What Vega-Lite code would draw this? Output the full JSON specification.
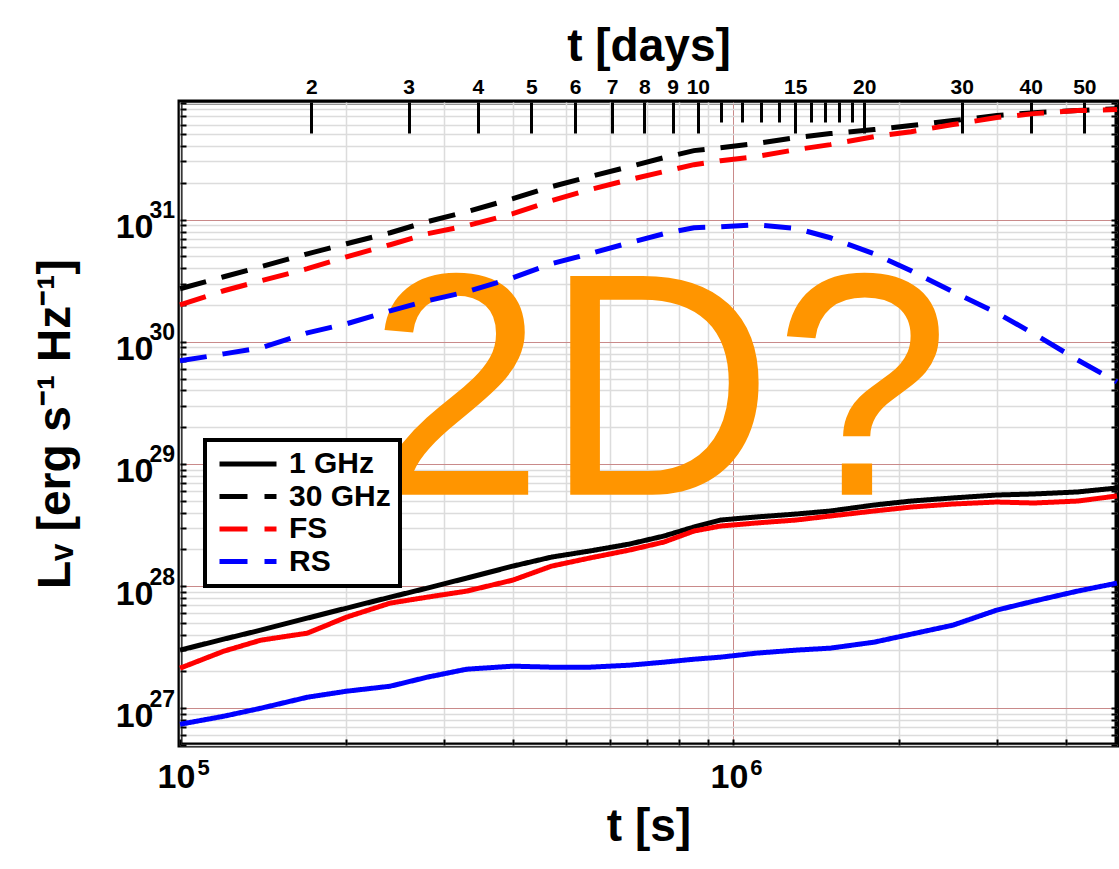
{
  "$schema": "https://vega.github.io/schema/vega-lite/v6.json",
  "width": 937,
  "height": 643,
  "autosize": {"type": "none"},
  "padding": {"left": 180, "top": 102, "right": 2, "bottom": 124},
  "background": "white",
  "config": {
    "font": "Liberation Sans",
    "view": {"stroke": "black", "strokeWidth": 5},
    "axis": {"domain": false, "labelColor": "black", "titleColor": "black", "labelFontWeight": "bold", "titleFontWeight": "bold", "tickColor": "black", "labelFont": "Liberation Sans", "titleFont": "Liberation Sans", "labelOverlap": false, "labelFlush": false, "labelBound": false}
  },
  "datasets": {
    "note": [{"t": 735000, "L": 5.6e28, "label": "2D?"}],
    "lines": [
      {"t":100000,"L":2.99e27,"freq":"1 GHz","key":"1 GHz"},
      {"t":120000,"L":3.68e27,"freq":"1 GHz","key":"1 GHz"},
      {"t":140000,"L":4.36e27,"freq":"1 GHz","key":"1 GHz"},
      {"t":170000,"L":5.47e27,"freq":"1 GHz","key":"1 GHz"},
      {"t":200000,"L":6.60e27,"freq":"1 GHz","key":"1 GHz"},
      {"t":240000,"L":8.12e27,"freq":"1 GHz","key":"1 GHz"},
      {"t":280000,"L":9.63e27,"freq":"1 GHz","key":"1 GHz"},
      {"t":330000,"L":1.163e28,"freq":"1 GHz","key":"1 GHz"},
      {"t":400000,"L":1.458e28,"freq":"1 GHz","key":"1 GHz"},
      {"t":470000,"L":1.729e28,"freq":"1 GHz","key":"1 GHz"},
      {"t":550000,"L":1.936e28,"freq":"1 GHz","key":"1 GHz"},
      {"t":650000,"L":2.21e28,"freq":"1 GHz","key":"1 GHz"},
      {"t":750000,"L":2.569e28,"freq":"1 GHz","key":"1 GHz"},
      {"t":850000,"L":3.045e28,"freq":"1 GHz","key":"1 GHz"},
      {"t":950000,"L":3.475e28,"freq":"1 GHz","key":"1 GHz"},
      {"t":1100000,"L":3.68e28,"freq":"1 GHz","key":"1 GHz"},
      {"t":1300000,"L":3.89e28,"freq":"1 GHz","key":"1 GHz"},
      {"t":1500000,"L":4.12e28,"freq":"1 GHz","key":"1 GHz"},
      {"t":1800000,"L":4.61e28,"freq":"1 GHz","key":"1 GHz"},
      {"t":2100000,"L":4.97e28,"freq":"1 GHz","key":"1 GHz"},
      {"t":2500000,"L":5.27e28,"freq":"1 GHz","key":"1 GHz"},
      {"t":3000000,"L":5.57e28,"freq":"1 GHz","key":"1 GHz"},
      {"t":3500000,"L":5.68e28,"freq":"1 GHz","key":"1 GHz"},
      {"t":4200000,"L":5.90e28,"freq":"1 GHz","key":"1 GHz"},
      {"t":4950000,"L":6.36e28,"freq":"1 GHz","key":"1 GHz"},

      {"t":100000,"L":2.128e27,"freq":"1 GHz","key":"FS"},
      {"t":120000,"L":2.933e27,"freq":"1 GHz","key":"FS"},
      {"t":140000,"L":3.608e27,"freq":"1 GHz","key":"FS"},
      {"t":170000,"L":4.119e27,"freq":"1 GHz","key":"FS"},
      {"t":200000,"L":5.57e27,"freq":"1 GHz","key":"FS"},
      {"t":240000,"L":7.26e27,"freq":"1 GHz","key":"FS"},
      {"t":280000,"L":8.12e27,"freq":"1 GHz","key":"FS"},
      {"t":330000,"L":9.10e27,"freq":"1 GHz","key":"FS"},
      {"t":400000,"L":1.12e28,"freq":"1 GHz","key":"FS"},
      {"t":470000,"L":1.458e28,"freq":"1 GHz","key":"FS"},
      {"t":550000,"L":1.696e28,"freq":"1 GHz","key":"FS"},
      {"t":650000,"L":1.973e28,"freq":"1 GHz","key":"FS"},
      {"t":750000,"L":2.294e28,"freq":"1 GHz","key":"FS"},
      {"t":850000,"L":2.823e28,"freq":"1 GHz","key":"FS"},
      {"t":950000,"L":3.104e28,"freq":"1 GHz","key":"FS"},
      {"t":1100000,"L":3.285e28,"freq":"1 GHz","key":"FS"},
      {"t":1300000,"L":3.475e28,"freq":"1 GHz","key":"FS"},
      {"t":1500000,"L":3.748e28,"freq":"1 GHz","key":"FS"},
      {"t":1800000,"L":4.12e28,"freq":"1 GHz","key":"FS"},
      {"t":2100000,"L":4.44e28,"freq":"1 GHz","key":"FS"},
      {"t":2500000,"L":4.70e28,"freq":"1 GHz","key":"FS"},
      {"t":3000000,"L":4.88e28,"freq":"1 GHz","key":"FS"},
      {"t":3500000,"L":4.79e28,"freq":"1 GHz","key":"FS"},
      {"t":4200000,"L":4.97e28,"freq":"1 GHz","key":"FS"},
      {"t":4950000,"L":5.47e28,"freq":"1 GHz","key":"FS"},

      {"t":100000,"L":7.39e26,"freq":"1 GHz","key":"RS"},
      {"t":120000,"L":8.60e26,"freq":"1 GHz","key":"RS"},
      {"t":140000,"L":1.0e27,"freq":"1 GHz","key":"RS"},
      {"t":170000,"L":1.231e27,"freq":"1 GHz","key":"RS"},
      {"t":200000,"L":1.378e27,"freq":"1 GHz","key":"RS"},
      {"t":240000,"L":1.515e27,"freq":"1 GHz","key":"RS"},
      {"t":280000,"L":1.796e27,"freq":"1 GHz","key":"RS"},
      {"t":330000,"L":2.088e27,"freq":"1 GHz","key":"RS"},
      {"t":400000,"L":2.21e27,"freq":"1 GHz","key":"RS"},
      {"t":470000,"L":2.168e27,"freq":"1 GHz","key":"RS"},
      {"t":550000,"L":2.168e27,"freq":"1 GHz","key":"RS"},
      {"t":650000,"L":2.251e27,"freq":"1 GHz","key":"RS"},
      {"t":750000,"L":2.383e27,"freq":"1 GHz","key":"RS"},
      {"t":850000,"L":2.52e27,"freq":"1 GHz","key":"RS"},
      {"t":950000,"L":2.62e27,"freq":"1 GHz","key":"RS"},
      {"t":1100000,"L":2.823e27,"freq":"1 GHz","key":"RS"},
      {"t":1300000,"L":2.99e27,"freq":"1 GHz","key":"RS"},
      {"t":1500000,"L":3.104e27,"freq":"1 GHz","key":"RS"},
      {"t":1800000,"L":3.475e27,"freq":"1 GHz","key":"RS"},
      {"t":2100000,"L":4.04e27,"freq":"1 GHz","key":"RS"},
      {"t":2500000,"L":4.79e27,"freq":"1 GHz","key":"RS"},
      {"t":3000000,"L":6.36e27,"freq":"1 GHz","key":"RS"},
      {"t":3500000,"L":7.53e27,"freq":"1 GHz","key":"RS"},
      {"t":4200000,"L":9.10e27,"freq":"1 GHz","key":"RS"},
      {"t":4950000,"L":1.058e28,"freq":"1 GHz","key":"RS"},

      {"t":100000,"L":2.72e30,"freq":"30 GHz","key":"30 GHz"},
      {"t":120000,"L":3.41e30,"freq":"30 GHz","key":"30 GHz"},
      {"t":140000,"L":4.12e30,"freq":"30 GHz","key":"30 GHz"},
      {"t":170000,"L":5.26e30,"freq":"30 GHz","key":"30 GHz"},
      {"t":200000,"L":6.36e30,"freq":"30 GHz","key":"30 GHz"},
      {"t":240000,"L":7.82e30,"freq":"30 GHz","key":"30 GHz"},
      {"t":280000,"L":9.63e30,"freq":"30 GHz","key":"30 GHz"},
      {"t":330000,"L":1.163e31,"freq":"30 GHz","key":"30 GHz"},
      {"t":400000,"L":1.486e31,"freq":"30 GHz","key":"30 GHz"},
      {"t":470000,"L":1.865e31,"freq":"30 GHz","key":"30 GHz"},
      {"t":550000,"L":2.251e31,"freq":"30 GHz","key":"30 GHz"},
      {"t":650000,"L":2.72e31,"freq":"30 GHz","key":"30 GHz"},
      {"t":750000,"L":3.22e31,"freq":"30 GHz","key":"30 GHz"},
      {"t":850000,"L":3.68e31,"freq":"30 GHz","key":"30 GHz"},
      {"t":950000,"L":3.89e31,"freq":"30 GHz","key":"30 GHz"},
      {"t":1100000,"L":4.20e31,"freq":"30 GHz","key":"30 GHz"},
      {"t":1300000,"L":4.70e31,"freq":"30 GHz","key":"30 GHz"},
      {"t":1500000,"L":5.07e31,"freq":"30 GHz","key":"30 GHz"},
      {"t":1800000,"L":5.47e31,"freq":"30 GHz","key":"30 GHz"},
      {"t":2100000,"L":5.90e31,"freq":"30 GHz","key":"30 GHz"},
      {"t":2500000,"L":6.48e31,"freq":"30 GHz","key":"30 GHz"},
      {"t":3000000,"L":7.12e31,"freq":"30 GHz","key":"30 GHz"},
      {"t":3500000,"L":7.53e31,"freq":"30 GHz","key":"30 GHz"},
      {"t":4200000,"L":7.82e31,"freq":"30 GHz","key":"30 GHz"},
      {"t":4950000,"L":8.12e31,"freq":"30 GHz","key":"30 GHz"},

      {"t":100000,"L":2.01e30,"freq":"30 GHz","key":"FS"},
      {"t":120000,"L":2.62e30,"freq":"30 GHz","key":"FS"},
      {"t":140000,"L":3.16e30,"freq":"30 GHz","key":"FS"},
      {"t":170000,"L":3.97e30,"freq":"30 GHz","key":"FS"},
      {"t":200000,"L":4.97e30,"freq":"30 GHz","key":"FS"},
      {"t":240000,"L":6.24e30,"freq":"30 GHz","key":"FS"},
      {"t":280000,"L":7.68e30,"freq":"30 GHz","key":"FS"},
      {"t":330000,"L":8.93e30,"freq":"30 GHz","key":"FS"},
      {"t":400000,"L":1.12e31,"freq":"30 GHz","key":"FS"},
      {"t":470000,"L":1.431e31,"freq":"30 GHz","key":"FS"},
      {"t":550000,"L":1.762e31,"freq":"30 GHz","key":"FS"},
      {"t":650000,"L":2.128e31,"freq":"30 GHz","key":"FS"},
      {"t":750000,"L":2.475e31,"freq":"30 GHz","key":"FS"},
      {"t":850000,"L":2.823e31,"freq":"30 GHz","key":"FS"},
      {"t":950000,"L":3.045e31,"freq":"30 GHz","key":"FS"},
      {"t":1100000,"L":3.285e31,"freq":"30 GHz","key":"FS"},
      {"t":1300000,"L":3.748e31,"freq":"30 GHz","key":"FS"},
      {"t":1500000,"L":4.12e31,"freq":"30 GHz","key":"FS"},
      {"t":1800000,"L":4.79e31,"freq":"30 GHz","key":"FS"},
      {"t":2100000,"L":5.26e31,"freq":"30 GHz","key":"FS"},
      {"t":2500000,"L":6.01e31,"freq":"30 GHz","key":"FS"},
      {"t":3000000,"L":6.86e31,"freq":"30 GHz","key":"FS"},
      {"t":3500000,"L":7.39e31,"freq":"30 GHz","key":"FS"},
      {"t":4200000,"L":7.82e31,"freq":"30 GHz","key":"FS"},
      {"t":4950000,"L":7.97e31,"freq":"30 GHz","key":"FS"},

      {"t":100000,"L":6.99e29,"freq":"30 GHz","key":"RS"},
      {"t":120000,"L":7.97e29,"freq":"30 GHz","key":"RS"},
      {"t":140000,"L":8.93e29,"freq":"30 GHz","key":"RS"},
      {"t":170000,"L":1.185e30,"freq":"30 GHz","key":"RS"},
      {"t":200000,"L":1.405e30,"freq":"30 GHz","key":"RS"},
      {"t":240000,"L":1.796e30,"freq":"30 GHz","key":"RS"},
      {"t":280000,"L":2.168e30,"freq":"30 GHz","key":"RS"},
      {"t":330000,"L":2.569e30,"freq":"30 GHz","key":"RS"},
      {"t":400000,"L":3.35e30,"freq":"30 GHz","key":"RS"},
      {"t":470000,"L":4.36e30,"freq":"30 GHz","key":"RS"},
      {"t":550000,"L":5.26e30,"freq":"30 GHz","key":"RS"},
      {"t":650000,"L":6.48e30,"freq":"30 GHz","key":"RS"},
      {"t":750000,"L":7.68e30,"freq":"30 GHz","key":"RS"},
      {"t":850000,"L":8.60e30,"freq":"30 GHz","key":"RS"},
      {"t":950000,"L":8.76e30,"freq":"30 GHz","key":"RS"},
      {"t":1100000,"L":9.10e30,"freq":"30 GHz","key":"RS"},
      {"t":1300000,"L":8.50e30,"freq":"30 GHz","key":"RS"},
      {"t":1500000,"L":7.12e30,"freq":"30 GHz","key":"RS"},
      {"t":1800000,"L":5.26e30,"freq":"30 GHz","key":"RS"},
      {"t":2100000,"L":3.82e30,"freq":"30 GHz","key":"RS"},
      {"t":2500000,"L":2.569e30,"freq":"30 GHz","key":"RS"},
      {"t":3000000,"L":1.729e30,"freq":"30 GHz","key":"RS"},
      {"t":3500000,"L":1.163e30,"freq":"30 GHz","key":"RS"},
      {"t":4200000,"L":7.12e29,"freq":"30 GHz","key":"RS"},
      {"t":4950000,"L":4.70e29,"freq":"30 GHz","key":"RS"}
    ]
  },
  "layer": [
    {
      "data": {"name": "note"},
      "mark": {"type": "text", "fontSize": 318, "color": "#FF9500", "font": "Liberation Sans", "fontWeight": "normal", "align": "center", "baseline": "alphabetic"},
      "encoding": {
        "x": {"field": "t", "type": "quantitative", "scale": {"type": "log", "domain": [100000, 4950000], "nice": false}, "axis": null},
        "y": {"field": "L", "type": "quantitative", "scale": {"type": "log", "domain": [5e26, 9.2e31], "nice": false}, "axis": null},
        "text": {"field": "label"}
      }
    },
    {
      "data": {"name": "lines"},
      "mark": {"type": "line", "strokeWidth": 5, "strokeCap": "butt"},
      "encoding": {
        "x": {"field": "t", "type": "quantitative", "scale": {"type": "log", "domain": [100000, 4950000], "nice": false},
          "axis": {"orient": "bottom", "title": "t [s]", "titleFontSize": 46, "titlePadding": 10,
            "values": [100000, 200000, 300000, 400000, 500000, 600000, 700000, 800000, 900000, 1000000, 2000000, 3000000, 4000000],
            "labelExpr": "datum.value == 100000 || datum.value == 1000000 ? '10' : ''",
            "labelFontSize": 34, "labelPadding": 21, "labelOffset": -4, "tickSize": -6, "tickWidth": 2,
            "grid": true,
            "gridColor": {"condition": {"test": "datum.value == 1000000", "value": "#c98a8a"}, "value": "#dcdcdc"},
            "gridWidth": {"condition": {"test": "datum.value == 1000000", "value": 1}, "value": 1.5}}},
        "y": {"field": "L", "type": "quantitative", "scale": {"type": "log", "domain": [5e26, 9.2e31], "nice": false},
          "axis": {"orient": "left", "title": "Lᵥ [erg s⁻¹ Hz⁻¹]", "titleFontSize": 46, "titlePadding": 36,
            "values": [5e26, 6e26, 7e26, 8e26, 9e26, 1e27, 2e27, 3e27, 4e27, 5e27, 6e27, 7e27, 8e27, 9e27, 1e28, 2e28, 3e28, 4e28, 5e28, 6e28, 7e28, 8e28, 9e28, 1e29, 2e29, 3e29, 4e29, 5e29, 6e29, 7e29, 8e29, 9e29, 1e30, 2e30, 3e30, 4e30, 5e30, 6e30, 7e30, 8e30, 9e30, 1e31, 2e31, 3e31, 4e31, 5e31, 6e31, 7e31, 8e31, 9e31],
            "labelExpr": "datum.value == 1e27 || datum.value == 1e28 || datum.value == 1e29 || datum.value == 1e30 || datum.value == 1e31 ? '10' : ''",
            "labelFontSize": 34, "labelPadding": 33, "labelOffset": 8, "tickSize": -6, "tickWidth": 2,
            "grid": true,
            "gridColor": {"condition": {"test": "datum.value == 1e27 || datum.value == 1e28 || datum.value == 1e29 || datum.value == 1e30 || datum.value == 1e31", "value": "#c98a8a"}, "value": "#dcdcdc"},
            "gridWidth": {"condition": {"test": "datum.value == 1e27 || datum.value == 1e28 || datum.value == 1e29 || datum.value == 1e30 || datum.value == 1e31", "value": 1}, "value": 1.5}}},
        "color": {"field": "key", "type": "nominal",
          "scale": {"domain": ["1 GHz", "30 GHz", "FS", "RS"], "range": ["#000000", "#000000", "#ff0000", "#0000ff"]},
          "legend": {"orient": "none", "legendX": 25, "legendY": 338, "title": null,
            "symbolType": "M-3,0H3", "symbolSize": 361, "symbolStrokeWidth": 5, "symbolOffset": 19,
            "labelFontSize": 30, "labelFontWeight": "bold", "labelFont": "Liberation Sans", "labelColor": "black",
            "labelOffset": 26, "rowPadding": 2.5, "padding": 9,
            "strokeColor": "black", "fillColor": "white",
            "encode": {
              "symbols": {"update": {"strokeDash": {"signal": "datum.value === '1 GHz' ? [1, 0] : [28, 17]"}}},
              "legend": {"update": {"strokeWidth": {"value": 4}}}
            }}},
        "strokeDash": {"field": "freq", "type": "nominal",
          "scale": {"domain": ["1 GHz", "30 GHz"], "range": [[1, 0], [27, 16]]}, "legend": null}
      }
    },
    {
      "data": {"name": "lines"},
      "mark": {"type": "point", "opacity": 0},
      "encoding": {
        "x": {"field": "t", "type": "quantitative", "scale": {"type": "log", "domain": [100000, 4950000], "nice": false},
          "axis": {"orient": "top", "title": "t [days]", "titleFontSize": 46, "titlePadding": -5,
            "values": [172800, 259200, 345600, 432000, 518400, 604800, 691200, 777600, 864000, 950400, 1036800, 1123200, 1209600, 1296000, 1382400, 1468800, 1555200, 1641600, 1728000, 2592000, 3456000, 4320000],
            "labelExpr": "(datum.value > 900000 && datum.value < 1700000 && datum.value != 1296000) ? '' : format(datum.value / 86400, 'd')",
            "labelFontSize": 21, "labelPadding": 36,
            "tickSize": {"condition": {"test": "datum.value > 900000 && datum.value < 1700000 && datum.value != 1296000", "value": -20}, "value": -31},
            "tickWidth": 3, "grid": false}},
        "y": {"field": "L", "type": "quantitative", "scale": {"type": "log", "domain": [5e26, 9.2e31], "nice": false},
          "axis": {"orient": "right", "title": null, "labels": false,
            "values": [5e26, 6e26, 7e26, 8e26, 9e26, 1e27, 2e27, 3e27, 4e27, 5e27, 6e27, 7e27, 8e27, 9e27, 1e28, 2e28, 3e28, 4e28, 5e28, 6e28, 7e28, 8e28, 9e28, 1e29, 2e29, 3e29, 4e29, 5e29, 6e29, 7e29, 8e29, 9e29, 1e30, 2e30, 3e30, 4e30, 5e30, 6e30, 7e30, 8e30, 9e30, 1e31, 2e31, 3e31, 4e31, 5e31, 6e31, 7e31, 8e31, 9e31],
            "tickSize": -6, "tickWidth": 2, "grid": false}}
      }
    },
    {
      "data": {"name": "lines"},
      "mark": {"type": "point", "opacity": 0},
      "encoding": {
        "x": {"field": "t", "type": "quantitative", "scale": {"type": "log", "domain": [100000, 4950000], "nice": false},
          "axis": {"orient": "bottom", "title": null, "values": [100000, 1000000],
            "labelExpr": "datum.value == 100000 ? '5' : '6'",
            "labelFontSize": 22, "labelPadding": 12, "labelOffset": 23, "ticks": false, "grid": false}},
        "y": {"field": "L", "type": "quantitative", "scale": {"type": "log", "domain": [5e26, 9.2e31], "nice": false},
          "axis": {"orient": "left", "title": null, "values": [1e27, 1e28, 1e29, 1e30, 1e31],
            "labelExpr": "datum.value == 1e27 ? '27' : datum.value == 1e28 ? '28' : datum.value == 1e29 ? '29' : datum.value == 1e30 ? '30' : '31'",
            "labelFontSize": 23, "labelAlign": "left", "labelPadding": 31, "labelOffset": -9, "ticks": false, "grid": false}}
      }
    }
  ],
  "resolve": {"axis": {"x": "independent", "y": "independent"}}
}
